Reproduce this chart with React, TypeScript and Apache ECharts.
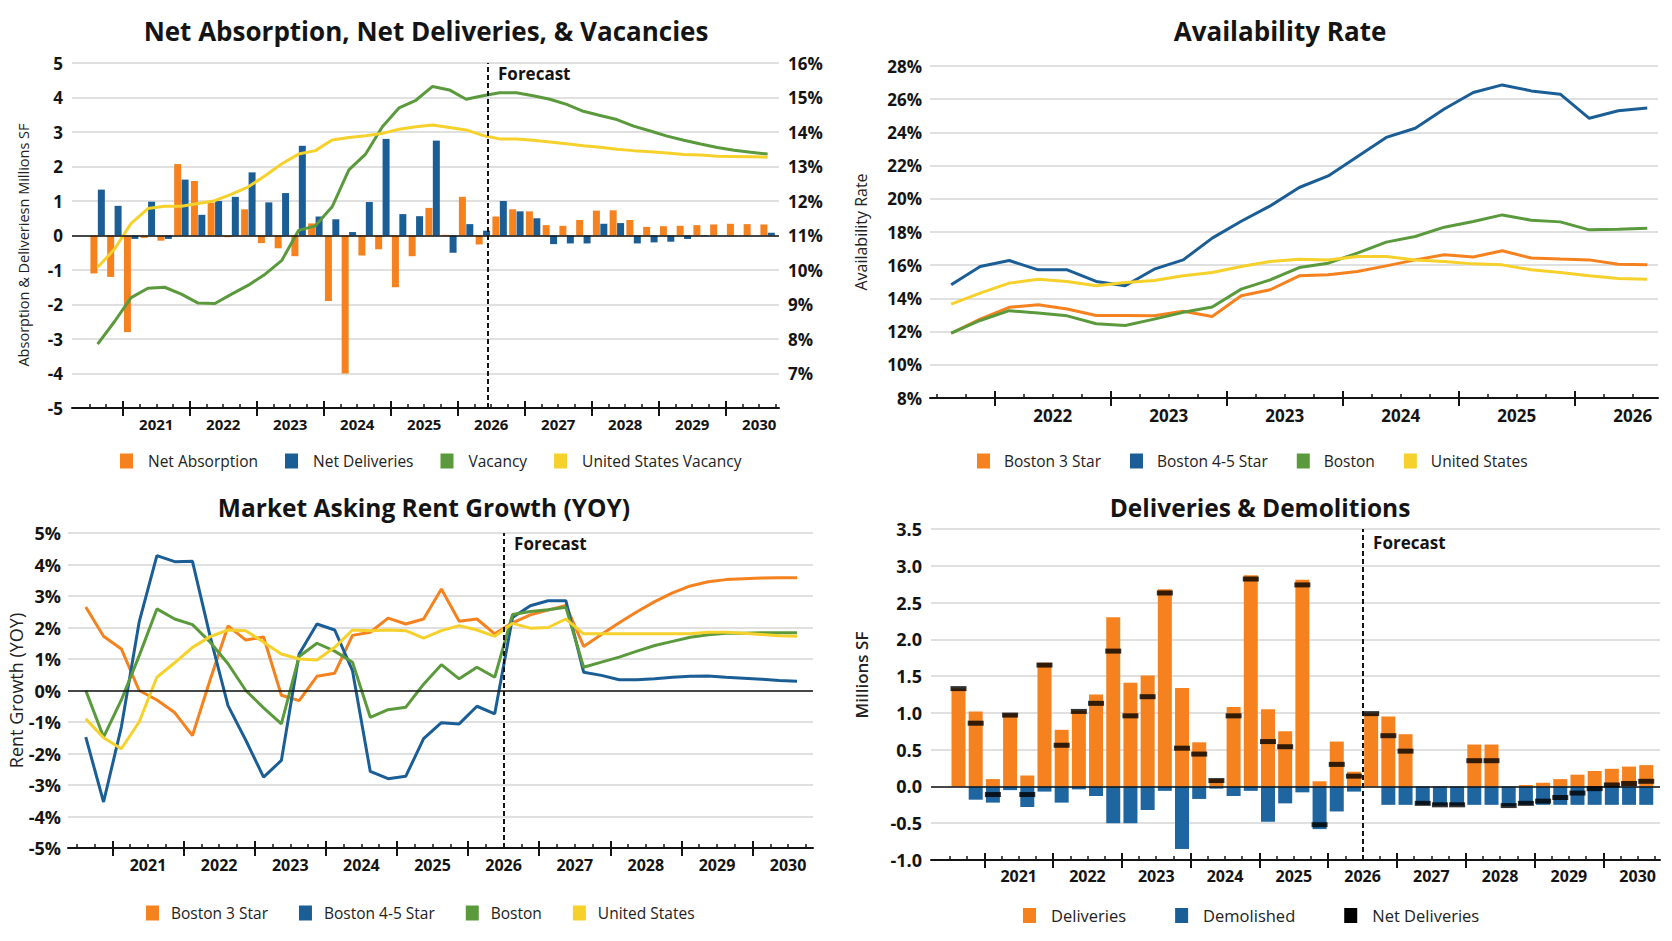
import React, { useEffect, useRef } from "react";
import * as echarts from "echarts";

const ORANGE = "#F5821F";
const BLUE = "#1B5E96";
const GREEN = "#5B9A3C";
const YELLOW = "#F6D12B";
const INK = "#141414";
const GRID_GRAY = "#d6d6d6";
const FONT = "'Open Sans', 'Noto Sans', 'DejaVu Sans', sans-serif";

// Quarterly timeline 2020 Q3 .. 2030 Q3 (41 quarters); one label per year
const yearLabels = ["2021", "2022", "2023", "2024", "2025", "2026", "2027", "2028", "2029", "2030"];
// Availability timeline (25 quarters)
const availabilityYearLabels = ["2022", "2023", "2023", "2024", "2025", "2026"];
// index of the first forecast quarter
const forecastStart = 24;

// Net absorption / deliveries, millions SF
const netAbsorption = [
  -1.1, -1.2, -2.8, -0.07, -0.15, 2.07, 1.58, 0.95, -0.05, 0.76, -0.22, -0.37, -0.6, 0.35, -1.9, -4.0,
  -0.58, -0.4, -1.5, -0.6, 0.8, 0.02, 1.12, -0.26, 0.55, 0.76, 0.7, 0.3, 0.28, 0.45, 0.72, 0.73, 0.45,
  0.25, 0.27, 0.28, 0.3, 0.32, 0.34, 0.33, 0.32,
];
const netDeliveries = [
  1.33, 0.86, -0.1, 0.98, -0.1, 1.62, 0.6, 1.0, 1.12, 1.83, 0.96, 1.23, 2.6, 0.55, 0.47, 0.1, 0.97, 2.8,
  0.62, 0.56, 2.75, -0.5, 0.33, 0.14, 1.0, 0.7, 0.5, -0.25, -0.23, -0.23, 0.34, 0.36, -0.23, -0.2, -0.18,
  -0.1, -0.02, 0, 0, 0, 0.08,
];
// Vacancy rates, %
const vacancy = [
  7.85, 8.5, 9.2, 9.47, 9.5, 9.3, 9.04, 9.03, 9.3, 9.56, 9.88, 10.28, 11.15, 11.28, 11.83, 12.9, 13.36,
  14.15, 14.7, 14.92, 15.32, 15.22, 14.95, 15.05, 15.14, 15.14, 15.05, 14.95, 14.8, 14.6, 14.48, 14.36,
  14.17, 14.03, 13.88, 13.76, 13.65, 13.55, 13.47, 13.41, 13.36,
];
const usVacancy = [
  10.08, 10.6, 11.35, 11.78, 11.85, 11.85, 11.93, 12.01, 12.2, 12.41, 12.73, 13.08, 13.36, 13.46, 13.77,
  13.84, 13.89, 13.96, 14.08, 14.15, 14.2, 14.13, 14.06, 13.9, 13.8, 13.8, 13.76, 13.71, 13.66, 13.6,
  13.56, 13.5, 13.46, 13.43, 13.39, 13.35, 13.33, 13.3, 13.29, 13.28, 13.27,
];

// Availability rates, %
const avail3Star = [
  11.9, 12.75, 13.46, 13.62, 13.36, 12.97, 12.97, 12.95, 13.22, 12.91, 14.16, 14.52, 15.36, 15.42, 15.62,
  15.96, 16.32, 16.63, 16.49, 16.87, 16.43, 16.37, 16.32, 16.06, 16.02,
];
const avail45Star = [
  14.82, 15.92, 16.28, 15.72, 15.72, 15.02, 14.76, 15.76, 16.32, 17.63, 18.65, 19.57, 20.68, 21.38, 22.54,
  23.7, 24.25, 25.41, 26.4, 26.86, 26.5, 26.3, 24.85, 25.3, 25.47,
];
const availBoston = [
  11.91, 12.67, 13.26, 13.12, 12.95, 12.47, 12.37, 12.75, 13.16, 13.48, 14.56, 15.12, 15.86, 16.12, 16.73,
  17.39, 17.73, 18.29, 18.63, 19.03, 18.71, 18.61, 18.13, 18.17, 18.23,
];
const availUS = [
  13.66, 14.32, 14.92, 15.16, 15.02, 14.76, 14.96, 15.08, 15.36, 15.56, 15.92, 16.22, 16.36, 16.32, 16.53,
  16.53, 16.32, 16.22, 16.08, 16.02, 15.72, 15.56, 15.36, 15.2, 15.16,
];

// Market asking rent growth (YOY), %
const rent3Star = [
  2.65, 1.72, 1.32, 0.0, -0.3, -0.7, -1.43, 0.35, 2.05, 1.6, 1.7, -0.15, -0.32, 0.45, 0.55, 1.75, 1.85,
  2.3, 2.11, 2.27, 3.22, 2.2, 2.27, 1.8, 2.15, 2.4, 2.55, 2.7, 1.4, 1.78, 2.15, 2.5, 2.82, 3.1, 3.32,
  3.45, 3.52, 3.55, 3.57, 3.58, 3.58,
];
const rent45Star = [
  -1.48, -3.54, -1.16, 2.17, 4.28, 4.09, 4.1, 1.7, -0.48, -1.58, -2.75, -2.22, 1.16, 2.11, 1.92, 0.63,
  -2.57, -2.8, -2.72, -1.53, -1.02, -1.06, -0.5, -0.74, 2.32, 2.69, 2.85, 2.85, 0.58, 0.48, 0.34, 0.34,
  0.37, 0.42, 0.45, 0.46, 0.42, 0.39, 0.36, 0.32, 0.29,
];
const rentBoston = [
  0, -1.48, -0.3, 1.1, 2.59, 2.27, 2.09, 1.53, 0.85, 0, -0.55, -1.06, 1.08, 1.5, 1.25, 0.9, -0.85, -0.61,
  -0.53, 0.2, 0.82, 0.37, 0.74, 0.42, 2.41, 2.51, 2.56, 2.64, 0.74, 0.9, 1.06, 1.25, 1.43, 1.56, 1.69,
  1.77, 1.82, 1.82, 1.83, 1.83, 1.83,
];
const rentUS = [
  -0.9, -1.5, -1.85, -1.0, 0.42, 0.88, 1.37, 1.71, 1.92, 1.9, 1.53, 1.16, 1.0, 0.97, 1.37, 1.92, 1.9,
  1.92, 1.9, 1.66, 1.9, 2.06, 1.92, 1.72, 2.13, 1.98, 2.0, 2.27, 1.8, 1.8, 1.8, 1.8, 1.8, 1.8, 1.8, 1.85,
  1.85, 1.82, 1.78, 1.74, 1.72,
];

// Deliveries & demolitions, millions SF
const deliveries = [
  1.33, 1.02, 0.1, 0.99, 0.15, 1.68, 0.77, 1.03, 1.25, 2.3, 1.41, 1.51, 2.68, 1.34, 0.6, 0.1, 1.08, 2.87,
  1.05, 0.75, 2.81, 0.07, 0.61, 0.2, 0.99, 0.95, 0.71, 0, 0, 0, 0.57, 0.57, 0, 0.02, 0.05, 0.1, 0.16,
  0.21, 0.24, 0.27, 0.29,
];
const demolished = [
  0, -0.18, -0.22, -0.05, -0.28, -0.07, -0.22, -0.04, -0.13, -0.5, -0.5, -0.32, -0.06, -0.85, -0.17,
  -0.03, -0.13, -0.06, -0.48, -0.23, -0.08, -0.58, -0.34, -0.07, 0, -0.25, -0.25, -0.25, -0.26, -0.26,
  -0.25, -0.25, -0.27, -0.25, -0.25, -0.25, -0.25, -0.25, -0.25, -0.25, -0.25,
];
const netDelivered = [
  1.33, 0.86, -0.11, 0.97, -0.11, 1.65, 0.56, 1.02, 1.13, 1.84, 0.96, 1.22, 2.63, 0.52, 0.44, 0.08, 0.96,
  2.82, 0.61, 0.54, 2.74, -0.52, 0.3, 0.14, 0.99, 0.69, 0.48, -0.23, -0.25, -0.25, 0.35, 0.35, -0.26,
  -0.23, -0.2, -0.15, -0.09, -0.03, 0.02, 0.04, 0.07,
];

// quarter k is drawn at the centre of its slot
const pts = (arr: number[]) => arr.map((v, i) => [i + 0.5, v]);

const tickLine = { color: INK, width: 1.5 };

// Three stacked x axes per panel: quarter ticks + axis line, outer year ticks with labels, inner year ticks
function quarterAxes(
  gridIndex: number,
  min: number,
  max: number,
  nSlots: number,
  labels: string[],
  fontSize: number,
  margin: number
) {
  const minor: number[] = [];
  for (let i = 0; i <= nSlots; i++) minor.push(i);
  const major = labels.map((_, i) => 2 + 4 * i);
  const labelPos = labels.map((_, i) => 4 + 4 * i);
  const base = {
    type: "value",
    gridIndex,
    min,
    max,
    position: "bottom",
    splitLine: { show: false },
    axisLine: { show: false, onZero: false },
    axisLabel: { show: false },
    axisTick: { show: false },
  };
  return [
    {
      ...base,
      axisLine: { show: true, onZero: false, lineStyle: { color: INK, width: 2 } },
      axisTick: { show: true, inside: true, length: 4, customValues: minor, lineStyle: tickLine },
    },
    {
      ...base,
      axisTick: { show: true, length: 8, customValues: major, lineStyle: { color: INK, width: 2 } },
      axisLabel: {
        show: true,
        customValues: labelPos,
        formatter: (v: number) => labels[Math.round((v - 4) / 4)] ?? "",
        fontSize,
        fontWeight: "bold",
        fontFamily: FONT,
        color: INK,
        margin,
      },
    },
    {
      ...base,
      axisTick: { show: true, inside: true, length: 7, customValues: major, lineStyle: { color: INK, width: 2 } },
    },
  ];
}

const yLabel = (fontSize: number, margin: number, formatter?: any) => ({
  fontSize,
  fontWeight: "bold",
  fontFamily: FONT,
  color: INK,
  margin,
  formatter,
});

const splitGray = { show: true, lineStyle: { color: GRID_GRAY, width: 1.5 } };

const forecastLine = {
  silent: true,
  symbol: "none",
  label: { show: false },
  data: [
    { xAxis: forecastStart, lineStyle: { color: INK, type: [5, 3], width: 2 } },
    { yAxis: 0, lineStyle: { color: INK, type: "solid", width: 1.5 } },
  ],
};

const forecastTag = (y: number) => ({
  silent: true,
  symbol: "rect",
  symbolSize: 1,
  itemStyle: { color: "rgba(0,0,0,0)" },
  label: {
    show: true,
    position: "right",
    distance: 10,
    formatter: "Forecast",
    fontSize: 17,
    fontWeight: "bold",
    fontFamily: FONT,
    color: INK,
  },
  data: [{ coord: [forecastStart, y] }],
});

const lineSeries = (name: string, color: string, data: number[], xAxisIndex: number, yAxisIndex: number) => ({
  type: "line",
  name,
  xAxisIndex,
  yAxisIndex,
  data: pts(data),
  showSymbol: false,
  lineStyle: { color, width: 3 },
  itemStyle: { color },
});

const legendBase = (
  left: number,
  top: number,
  itemGap: number,
  fontSize: number,
  textPad: number,
  data: any[]
) => ({
  left,
  top,
  padding: 0,
  itemGap,
  icon: "rect",
  itemWidth: 13,
  itemHeight: 15,
  data,
  textStyle: { fontSize, color: "#222", fontFamily: FONT, padding: [0, 0, 0, textPad] },
});

const titleText = (text: string, x: number, y: number, fontSize: number) => ({
  type: "text",
  x,
  y,
  style: {
    text,
    fontSize,
    fontWeight: "bold",
    fontFamily: FONT,
    fill: INK,
    align: "center",
    verticalAlign: "middle",
  },
});

const yName = (fontSize: number, weight: string | number, padding: number[]) => ({
  fontSize,
  fontWeight: weight,
  fontFamily: FONT,
  color: "#222",
  padding,
});

const rateLegend = [
  { name: "Boston 3 Star", itemStyle: { color: ORANGE } },
  { name: "Boston 4-5 Star", itemStyle: { color: BLUE } },
  { name: "Boston", itemStyle: { color: GREEN } },
  { name: "United States", itemStyle: { color: YELLOW } },
];

function buildOption() {
  return {
    animation: false,
    backgroundColor: "#ffffff",
    graphic: [
      titleText("Net Absorption, Net Deliveries, & Vacancies", 426, 31, 26),
      titleText("Availability Rate", 1280, 31, 26),
      titleText("Market Asking Rent Growth (YOY)", 424, 507, 24.5),
      titleText("Deliveries & Demolitions", 1260, 507, 24.5),
    ],
    grid: [
      { left: 72, top: 63, width: 707, height: 345 },
      { left: 930, top: 66, width: 728, height: 332 },
      { left: 68, top: 533, width: 745, height: 315 },
      { left: 931, top: 529, width: 729, height: 331 },
    ],
    xAxis: [
      ...quarterAxes(0, -1.03, 41.18, 41, yearLabels, 15, 8),
      ...quarterAxes(1, -0.23, 24.87, 25, availabilityYearLabels, 17, 9),
      ...quarterAxes(2, -0.5, 41.4, 41, yearLabels, 16, 9),
      ...quarterAxes(3, -1.1, 41.3, 41, yearLabels, 16, 8),
    ],
    yAxis: [
      {
        type: "value",
        gridIndex: 0,
        min: -5,
        max: 5,
        interval: 1,
        axisLine: { show: false, onZero: false },
        axisTick: { show: false },
        axisLabel: yLabel(17, 9),
        splitLine: splitGray,
        name: "Absorption & Deliveriesn Millions SF",
        nameLocation: "middle",
        nameGap: 41,
        nameTextStyle: yName(14.5, "normal", [0, 19, 0, 0]),
      },
      {
        type: "value",
        gridIndex: 0,
        position: "right",
        min: 6,
        max: 16,
        interval: 1,
        axisLine: { show: false, onZero: false },
        axisTick: { show: false },
        axisLabel: { ...yLabel(17, 9, "{value}%"), showMinLabel: false },
        splitLine: { show: false },
      },
      {
        type: "value",
        gridIndex: 1,
        min: 8,
        max: 28,
        interval: 2,
        axisLine: { show: false, onZero: false },
        axisTick: { show: false },
        axisLabel: yLabel(17, 8, "{value}%"),
        splitLine: splitGray,
        name: "Availability Rate",
        nameLocation: "middle",
        nameGap: 61,
        nameTextStyle: yName(16, "normal", [0, 0, 0, 0]),
      },
      {
        type: "value",
        gridIndex: 2,
        min: -5,
        max: 5,
        interval: 1,
        axisLine: { show: false, onZero: false },
        axisTick: { show: false },
        axisLabel: yLabel(18, 7, "{value}%"),
        splitLine: splitGray,
        name: "Rent Growth (YOY)",
        nameLocation: "middle",
        nameGap: 42,
        nameTextStyle: yName(18, "normal", [0, 0, 0, 0]),
      },
      {
        type: "value",
        gridIndex: 3,
        min: -1,
        max: 3.5,
        interval: 0.5,
        axisLine: { show: false, onZero: false },
        axisTick: { show: false },
        axisLabel: yLabel(18, 9, (v: number) => v.toFixed(1)),
        splitLine: splitGray,
        name: "Millions SF",
        nameLocation: "middle",
        nameGap: 61,
        nameTextStyle: yName(17, 600, [0, 0, 0, 39]),
      },
    ],
    legend: [
      legendBase(120, 453, 27, 15.5, 10, [
        { name: "Net Absorption", itemStyle: { color: ORANGE } },
        { name: "Net Deliveries", itemStyle: { color: BLUE } },
        { name: "Vacancy", itemStyle: { color: GREEN } },
        { name: "United States Vacancy", itemStyle: { color: YELLOW } },
      ]),
      legendBase(977, 453, 29, 15.5, 9, rateLegend),
      legendBase(146, 905, 31, 15.5, 7, rateLegend),
      legendBase(1023, 907, 49, 16.5, 10, [
        { name: "Deliveries", itemStyle: { color: ORANGE } },
        { name: "Demolished", itemStyle: { color: BLUE } },
        { name: "Net Deliveries", itemStyle: { color: "#000" } },
      ]),
    ],
    series: [
      // Net absorption, net deliveries & vacancies
      {
        type: "bar",
        name: "Net Absorption",
        xAxisIndex: 0,
        yAxisIndex: 0,
        data: pts(netAbsorption),
        barWidth: 7,
        barGap: "6%",
        itemStyle: { color: ORANGE },
        markLine: forecastLine,
        markPoint: forecastTag(4.7),
      },
      {
        type: "bar",
        name: "Net Deliveries",
        xAxisIndex: 0,
        yAxisIndex: 0,
        data: pts(netDeliveries),
        barWidth: 7,
        barGap: "6%",
        itemStyle: { color: BLUE },
      },
      lineSeries("Vacancy", GREEN, vacancy, 0, 1),
      lineSeries("United States Vacancy", YELLOW, usVacancy, 0, 1),

      // Availability rate
      lineSeries("Boston 3 Star", ORANGE, avail3Star, 3, 2),
      lineSeries("Boston 4-5 Star", BLUE, avail45Star, 3, 2),
      lineSeries("Boston", GREEN, availBoston, 3, 2),
      lineSeries("United States", YELLOW, availUS, 3, 2),

      // Market asking rent growth
      {
        ...lineSeries("Boston 3 Star", ORANGE, rent3Star, 6, 3),
        markLine: forecastLine,
        markPoint: forecastTag(4.66),
      },
      lineSeries("Boston 4-5 Star", BLUE, rent45Star, 6, 3),
      lineSeries("Boston", GREEN, rentBoston, 6, 3),
      lineSeries("United States", YELLOW, rentUS, 6, 3),

      // Deliveries & demolitions
      {
        type: "bar",
        name: "Deliveries",
        xAxisIndex: 9,
        yAxisIndex: 4,
        stack: "dd",
        data: pts(deliveries),
        barWidth: 14,
        itemStyle: { color: ORANGE },
        markLine: forecastLine,
        markPoint: forecastTag(3.31),
      },
      {
        type: "bar",
        name: "Demolished",
        xAxisIndex: 9,
        yAxisIndex: 4,
        stack: "dd",
        data: pts(demolished),
        barWidth: 14,
        itemStyle: { color: "#1F65A0" },
      },
      {
        type: "scatter",
        name: "Net Deliveries",
        xAxisIndex: 9,
        yAxisIndex: 4,
        data: pts(netDelivered),
        symbol: "rect",
        symbolSize: [16, 5],
        itemStyle: { color: "#000" },
        z: 5,
      },
    ],
  };
}

export default function App() {
  const ref = useRef<HTMLDivElement>(null);
  useEffect(() => {
    document.body.style.margin = "0";
    if (!ref.current) return;
    const chart = echarts.init(ref.current, undefined, { renderer: "svg" });
    chart.setOption(buildOption() as any);
    return () => chart.dispose();
  }, []);
  return (
    <div
      ref={ref}
      style={{ position: "absolute", left: 0, top: 0, width: 1672, height: 941, background: "#fff" }}
    />
  );
}
